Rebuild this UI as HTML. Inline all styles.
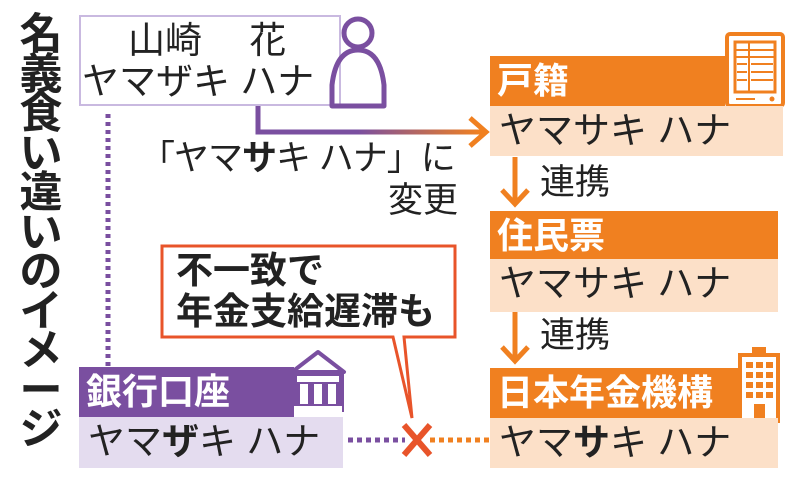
<!DOCTYPE html>
<html><head><meta charset="utf-8"><style>
body{margin:0;width:800px;height:485px;background:#fff;overflow:hidden;position:relative;font-family:"Liberation Sans","Noto Sans CJK JP",sans-serif;color:#222}
.a{position:absolute;white-space:nowrap}
.hd{position:absolute;color:#fff;font-weight:bold;font-size:36px;line-height:50px;padding-left:7px;box-sizing:border-box}
.bd{position:absolute;font-size:37px;line-height:50px;padding-left:9px;box-sizing:border-box}
</style></head><body>
<div class="a" style="left:14px;top:16px;width:54px;font-size:43px;line-height:39.5px;font-weight:bold;white-space:normal;text-align:center;color:#222">名義食い違いのイメージ</div>

<div class="a" style="left:79px;top:15px;width:262px;height:91px;border:2px solid #c9b9e0;box-sizing:border-box"></div>
<div class="a" style="left:128px;top:20px;font-size:37px;line-height:42px">山崎　 花</div>
<div class="a" style="left:82px;top:61px;font-size:37px;line-height:42px">ヤマザキ ハナ</div>

<svg class="a" style="left:0;top:0" width="800" height="485">
<defs><linearGradient id="g" x1="258" x2="480" gradientUnits="userSpaceOnUse"><stop offset="0.45" stop-color="#7a4fa0"/><stop offset="1" stop-color="#f08020"/></linearGradient></defs>
<circle cx="358" cy="33" r="14" fill="none" stroke="#7a4fa0" stroke-width="5"/>
<path d="M332 106 L332 85 Q336 50 358 50 Q380 50 384 85 L384 106 Z" fill="none" stroke="#7a4fa0" stroke-width="5" stroke-linejoin="round"/>
<line x1="108" y1="114" x2="108" y2="368" stroke="#7a4fa0" stroke-width="5" stroke-dasharray="4 4"/>
<path d="M258 106 V132 H484" fill="none" stroke="url(#g)" stroke-width="5"/>
<path d="M470 118 L486 132 L470 146" fill="none" stroke="#f08020" stroke-width="5"/>
<path d="M515 157 V203 M502 190 L515 204 L528 190" fill="none" stroke="#f08020" stroke-width="5"/>
<path d="M515 312 V360 M502 347 L515 361 L528 347" fill="none" stroke="#f08020" stroke-width="5"/>
<rect x="727" y="34" width="56" height="72" rx="3" fill="#fff" stroke="#f08020" stroke-width="4"/>
<rect x="735" y="42" width="40" height="50" fill="none" stroke="#f08020" stroke-width="3"/>
<path d="M735 50H775M735 57H775M749 42V92M737 64H747M751 64H773M737 72H747M751 72H773M737 80H747M751 80H773M736 99H755" stroke="#f08020" stroke-width="2"/>
<circle cx="772" cy="99" r="2.5" fill="#f08020"/>
<rect x="740" y="355" width="38" height="66" fill="#fff" stroke="#f08020" stroke-width="4"/>
<rect x="752" y="347" width="14" height="8" fill="#f08020"/>
<g fill="#f08020"><rect x="746" y="362" width="7" height="6"/><rect x="756" y="362" width="7" height="6"/><rect x="766" y="362" width="7" height="6"/><rect x="746" y="372" width="7" height="6"/><rect x="756" y="372" width="7" height="6"/><rect x="766" y="372" width="7" height="6"/><rect x="746" y="382" width="7" height="6"/><rect x="756" y="382" width="7" height="6"/><rect x="766" y="382" width="7" height="6"/><rect x="746" y="392" width="7" height="6"/><rect x="756" y="392" width="7" height="6"/><rect x="766" y="392" width="7" height="6"/><rect x="754" y="404" width="11" height="15"/></g>
<path d="M162 246 H455 V337 H404 L412 418 L393 337 H162 Z" fill="#fff" stroke="#e8542a" stroke-width="3"/>
<line x1="348" y1="440" x2="405" y2="440" stroke="#7a4fa0" stroke-width="5" stroke-dasharray="5 4"/>
<line x1="430" y1="440" x2="490" y2="440" stroke="#f08020" stroke-width="5" stroke-dasharray="5 4"/>
<path d="M404 425 L430 455 M430 425 L404 455" stroke="#e8542a" stroke-width="6"/>
</svg>

<div class="a" style="left:140px;top:138px;font-size:35px;line-height:42px;letter-spacing:-1px">「ヤマ<b>サ</b>キ ハナ」に</div>
<div class="a" style="left:388px;top:180px;font-size:35px;line-height:42px">変更</div>

<div class="hd" style="left:490px;top:56px;width:235px;height:50px;background:#f08020">戸籍</div>
<div class="bd" style="left:490px;top:106px;width:293px;height:50px;background:#fce0c8">ヤマサキ ハナ</div>
<div class="a" style="left:540px;top:162px;font-size:35px;line-height:42px">連携</div>

<div class="hd" style="left:490px;top:211px;width:288px;height:48px;background:#f08020">住民票</div>
<div class="bd" style="left:490px;top:259px;width:288px;height:53px;background:#fce0c8">ヤマサキ ハナ</div>
<div class="a" style="left:540px;top:315px;font-size:35px;line-height:42px">連携</div>

<div class="hd" style="left:490px;top:368px;width:248px;height:50px;background:#f08020">日本年金機構</div>
<div class="bd" style="left:490px;top:418px;width:288px;height:50px;background:#fce0c8">ヤマ<b>サ</b>キ ハナ</div>

<div class="hd" style="left:79px;top:367px;width:215px;height:50px;background:#7a4fa0">銀行口座</div>
<div class="bd" style="left:79px;top:417px;width:264px;height:51px;background:#e4dcef">ヤマ<b>ザ</b>キ ハナ</div>
<svg class="a" style="left:288px;top:348px" width="60" height="72">
<path d="M4 24 L30 4 L56 24 Z" fill="#fff" stroke="#7a4fa0" stroke-width="4" stroke-linejoin="round"/>
<rect x="4" y="24" width="52" height="40" fill="#7a4fa0"/>
<rect x="9" y="28" width="42" height="6" fill="#fff"/>
<rect x="12" y="36" width="8" height="20" fill="#fff"/><rect x="26" y="36" width="8" height="20" fill="#fff"/><rect x="40" y="36" width="8" height="20" fill="#fff"/>
<rect x="6" y="58" width="48" height="6" fill="#fff"/>
</svg>

<div class="a" style="left:176px;top:250px;font-size:37px;line-height:42px;font-weight:bold">不一致で</div>
<div class="a" style="left:176px;top:291px;font-size:37px;line-height:42px;font-weight:bold">年金支給遅滞も</div>
</body></html>
